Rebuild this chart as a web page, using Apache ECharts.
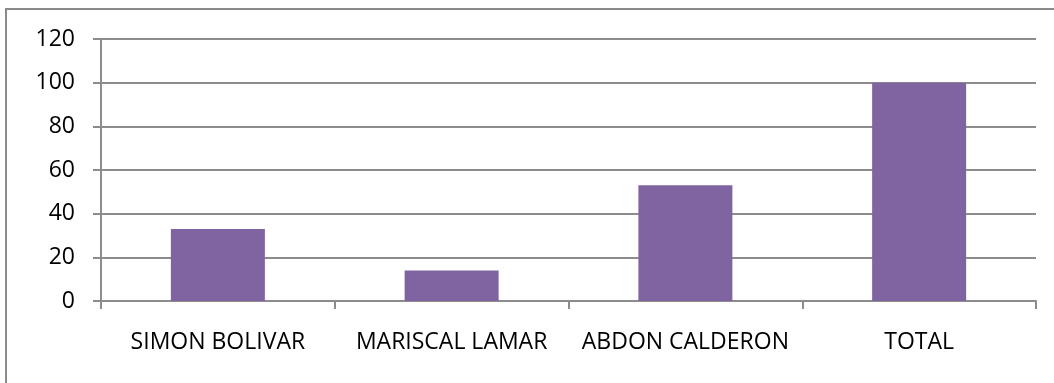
<!DOCTYPE html>
<html>
<head>
<meta charset="utf-8">
<script src="https://cdn.jsdelivr.net/npm/echarts@6/dist/echarts.min.js"></script>
<style>
  html, body { margin: 0; padding: 0; background: #ffffff; }
  #chart { width: 1054px; height: 383px; }
</style>
</head>
<body>
<div id="chart"></div>
<script>
// Schools and their counts
const categories = ['SIMON BOLIVAR', 'MARISCAL LAMAR', 'ABDON CALDERON', 'TOTAL'];
const values = [33, 14, 53, 100];
const yTicks = { min: 0, max: 120, interval: 20 };

const axisGray = '#8c8c8c';
const barColor = '#8064a2';
const fontFamily = '"Open Sans", "Liberation Sans", Arial, sans-serif';

const chart = echarts.init(document.getElementById('chart'), null, { renderer: 'canvas' });
chart.setOption({
  animation: false,
  backgroundColor: '#ffffff',
  graphic: [{
    type: 'rect',
    shape: { x: 6, y: 9, width: 1100, height: 420 },
    style: { fill: 'none', stroke: '#8a8a8a', lineWidth: 2 },
    silent: true
  }],
  grid: { left: 101, right: 18, top: 39, bottom: 82, containLabel: false },
  xAxis: {
    type: 'category',
    data: categories,
    boundaryGap: true,
    axisLine: { show: true, lineStyle: { color: axisGray, width: 2 } },
    axisTick: { show: true, length: 8, alignWithLabel: false, lineStyle: { color: axisGray, width: 2 } },
    axisLabel: { color: '#000000', fontSize: 23, fontFamily: fontFamily, margin: 30, interval: 0 },
    splitLine: { show: false }
  },
  yAxis: {
    type: 'value',
    min: yTicks.min,
    max: yTicks.max,
    interval: yTicks.interval,
    axisLine: { show: true, lineStyle: { color: axisGray, width: 2 } },
    axisTick: { show: true, length: 8, lineStyle: { color: axisGray, width: 2 } },
    axisLabel: { color: '#000000', fontSize: 23, fontFamily: fontFamily, margin: 26 },
    splitLine: { show: true, lineStyle: { color: axisGray, width: 2 } }
  },
  series: [{
    type: 'bar',
    data: values,
    barWidth: 94,
    itemStyle: { color: barColor },
    z: 3
  }]
});
</script>
</body>
</html>
